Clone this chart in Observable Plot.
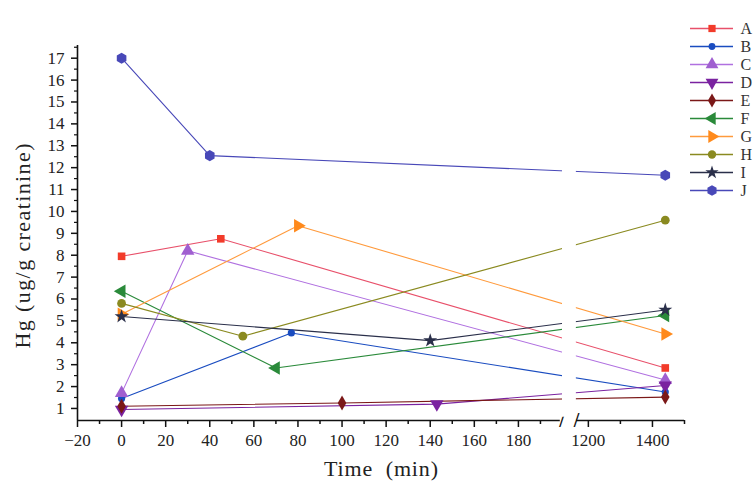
<!DOCTYPE html>
<html><head><meta charset="utf-8">
<script src="https://cdn.jsdelivr.net/npm/d3@7"></script>
<script src="https://cdn.jsdelivr.net/npm/@observablehq/plot@0.6"></script>
<style>
body{margin:0;background:#fff;}
#wrap{position:relative;width:755px;height:481px;overflow:hidden;background:#fff;}
#legend{position:absolute;left:686px;top:0;}
</style></head><body><div id="wrap"></div>
<script>
// ---- data ----
const seriesNames = ["A","B","C","D","E","F","G","H","I","J"];
const seriesTimes = [
  [0, 45, 1440],
  [0, 77, 1440],
  [0, 30, 1440],
  [0, 143, 1440],
  [0, 100, 1440],
  [0, 70, 1440],
  [0, 80, 1440],
  [0, 55, 1440],
  [0, 140, 1440],
  [0, 40, 1440]
];
const seriesValues = [
  [7.95, 8.75, 2.85],
  [1.45, 4.45, 1.75],
  [1.7, 8.2, 2.3],
  [0.95, 1.2, 2.05],
  [1.1, 1.25, 1.52],
  [6.35, 2.85, 5.25],
  [5.3, 9.35, 4.4],
  [5.8, 4.3, 9.6],
  [5.2, 4.1, 5.5],
  [17.0, 12.55, 11.65]
];
const xMajorTicks = [-20, 0, 20, 40, 60, 80, 100, 120, 140, 160, 180, 1200, 1400];
const xMinorTicks = [-10, 10, 30, 50, 70, 90, 110, 130, 150, 170, 190, 1300, 1500];
const yMajorTicks = [1, 2, 3, 4, 5, 6, 7, 8, 9, 10, 11, 12, 13, 14, 15, 16, 17];
const yMinorTicks = [1.5, 2.5, 3.5, 4.5, 5.5, 6.5, 7.5, 8.5, 9.5, 10.5, 11.5, 12.5, 13.5, 14.5, 15.5, 16.5, 17.5];
const xTitle = "Time  (min)";
const yTitle = "Hg (ug/g creatinine)";

// ---- styles ----
const lineColors = ["#e8506a", "#1a4cc0", "#b070e0", "#7a22a0", "#7b1818", "#2a8a3a", "#ff9a3c", "#8a8a20", "#2a2f4a", "#4848b8"];
const fillColors = ["#f23b2a", "#1a4cc0", "#a05fd0", "#7a22a0", "#7b1818", "#2a8a3a", "#ff8a1c", "#8a8a20", "#2a2f4a", "#4848b8"];
const sqrt3 = Math.sqrt(3);
function triangle(angle) {
  const a = angle * Math.PI / 180, c = Math.cos(a), s = Math.sin(a);
  return {draw(ctx, size) {
    const y = -Math.sqrt(size / (sqrt3 * 3));
    const pts = [[0, 2 * y], [-sqrt3 * y, -y], [sqrt3 * y, -y]].map(([px, py]) => [px * c - py * s, px * s + py * c]);
    ctx.moveTo(pts[0][0], pts[0][1]); ctx.lineTo(pts[1][0], pts[1][1]); ctx.lineTo(pts[2][0], pts[2][1]); ctx.closePath();
  }};
}
const symbols = ["square", "circle", triangle(0), triangle(180), "diamond", triangle(-90), triangle(90), "circle", "star", "hexagon"];
const radii = [4.3, 3.6, 5.0, 5.0, 4.5, 5.0, 5.0, 4.4, 4.4, 4.8];

// break definition
const xDomain = [-20, 200, 1163, 1500];
const xRange = [77, 562, 576, 684];
const yDomain = [0.45, 17.58];
const yRange = [420, 45];

const rows = seriesNames.flatMap((name, i) => seriesTimes[i].map((t, j) => ({name, t, v: seriesValues[i][j], i})));

const fmt = d => d < 0 ? "\u2212" + (-d) : String(d);
const font = "'Liberation Serif', 'Times New Roman', serif";

const marks = [];
// axis lines
marks.push(Plot.ruleY([yDomain[0]], {x1: xDomain[0], x2: xDomain[1] - 1, stroke: "#111", strokeWidth: 1.6}));
marks.push(Plot.ruleY([yDomain[0]], {x1: xDomain[2], x2: xDomain[3], stroke: "#111", strokeWidth: 1.6}));
marks.push(Plot.ruleX([xDomain[0]], {y1: yDomain[0], y2: yDomain[1], stroke: "#111", strokeWidth: 1.6}));
// ticks
marks.push(Plot.axisX({ticks: xMajorTicks, tickFormat: fmt, tickSize: 7, tickPadding: 6, fontSize: 17, label: null, anchor: "bottom", stroke: "#111", strokeWidth: 1.5, fill: "#222"}));
marks.push(Plot.axisX({ticks: xMinorTicks, text: null, tickSize: 4, label: null, anchor: "bottom", stroke: "#111", strokeWidth: 1.5}));
marks.push(Plot.axisY({ticks: yMajorTicks, tickFormat: fmt, tickSize: 6, tickPadding: 7, fontSize: 17, label: null, anchor: "left", stroke: "#111", strokeWidth: 1.5, fill: "#222"}));
marks.push(Plot.axisY({ticks: yMinorTicks, text: null, tickSize: 3, label: null, anchor: "left", stroke: "#111", strokeWidth: 1.2}));
// break marks
marks.push(Plot.text([xDomain[1] - 0.2, xDomain[2]], {x: d => d, y: yDomain[0], text: () => "/", fontSize: 20, fill: "#111", fontWeight: "bold"}));
// series lines
seriesNames.forEach((name, i) => {
  marks.push(Plot.line(rows.filter(r => r.name === name), {x: "t", y: "v", stroke: lineColors[i], strokeWidth: 1.1}));
});
// gap in lines at the break
marks.push(Plot.rect([0], {x1: xDomain[1], x2: xDomain[2] - 10, y1: yDomain[0] + 0.15, y2: yDomain[1], fill: "white"}));
// points
seriesNames.forEach((name, i) => {
  marks.push(Plot.dot(rows.filter(r => r.name === name), {x: "t", y: "v", symbol: symbols[i], r: radii[i], fill: fillColors[i], stroke: "none"}));
});
// titles
marks.push(Plot.text([xTitle], {frameAnchor: "bottom", textAnchor: "middle", lineAnchor: "middle", dy: 48, fontSize: 22, fill: "#222"}));
marks.push(Plot.text([yTitle], {frameAnchor: "left", textAnchor: "middle", lineAnchor: "middle", dx: -55, dy: 13, rotate: -90, fontSize: 22, fill: "#222"}));

const chart = Plot.plot({
  width: 755, height: 481,
  marginLeft: 77, marginRight: 71, marginTop: 45, marginBottom: 61,
  style: {fontFamily: font, background: "white"},
  x: {type: "linear", domain: xDomain, range: xRange, axis: null},
  y: {type: "linear", domain: yDomain, range: yRange, axis: null},
  marks
});
d3.select(chart).selectAll("text").filter(function() { return this.textContent === yTitle; })
  .attr("textLength", 205).attr("lengthAdjust", "spacing");
d3.select(chart).selectAll("text").filter(function() { return this.textContent === xTitle; })
  .attr("textLength", 114).attr("lengthAdjust", "spacing");
const wrap = document.getElementById("wrap");
wrap.appendChild(chart);

// legend
const legendRows = seriesNames.map((name, i) => ({name, i}));
const legendMarks = [
  Plot.ruleY(legendRows, {y: "name", x1: 0, x2: 1, stroke: d => lineColors[d.i], strokeWidth: 1.3}),
  ...legendRows.map(d => Plot.dot([d], {x: 0.5, y: "name", symbol: symbols[d.i], r: radii[d.i] * 0.95, fill: fillColors[d.i]})),
  Plot.text(legendRows, {x: 1, y: "name", text: "name", dx: 7, textAnchor: "start", fontSize: 16, fill: "#333"})
];
const legend = Plot.plot({
  width: 69, height: 215, margin: 0,
  style: {fontFamily: font, background: "transparent", overflow: "visible"},
  x: {domain: [0, 1], range: [4, 47], axis: null},
  y: {type: "point", domain: seriesNames, range: [15, 203], axis: null},
  marks: legendMarks
});
legend.id = "legend";
wrap.appendChild(legend);
</script></body></html>
